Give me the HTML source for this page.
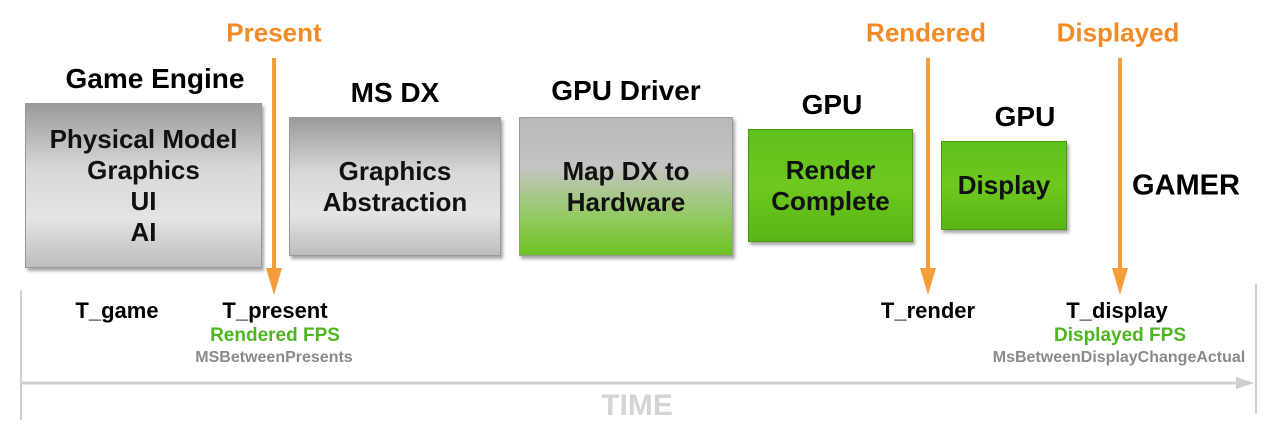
<!DOCTYPE html>
<html><head><style>
body{margin:0;width:1280px;height:437px;background:#fff;position:relative;overflow:hidden;font-family:"Liberation Sans",sans-serif;font-weight:bold}
.t{position:absolute;white-space:nowrap;transform:translate(-50%,-50%);text-align:center}
.b{position:absolute;box-sizing:border-box;border:1px solid #999;box-shadow:2px 3px 3px rgba(0,0,0,.35);display:flex;align-items:center;justify-content:center;text-align:center;color:#111;font-size:26px;line-height:31px}
.g{background:linear-gradient(#9a9a9a,#d8d8d8 40%,#e4e4e4 70%,#bdbdbd)}
.gr{background:linear-gradient(#5fc01a,#6ec81f 50%,#58b514);border-color:#4a9a10}
.o{color:#f28a26;font-size:26px}
.h{font-size:28px;color:#000}
.s{font-size:22px;color:#000}
</style></head><body>
<svg width="1280" height="437" style="position:absolute;left:0;top:0">
<g fill="#f49b3a" stroke="#f49b3a">
<line x1="274" y1="58" x2="274" y2="272" stroke-width="4"/><polygon points="266,268 282,268 274,295" stroke="none"/>
<line x1="928" y1="58" x2="928" y2="272" stroke-width="4"/><polygon points="920,268 936,268 928,295" stroke="none"/>
<line x1="1120" y1="58" x2="1120" y2="272" stroke-width="4"/><polygon points="1112,268 1128,268 1120,295" stroke="none"/>
</g>
<g stroke="#cfcfcf" fill="#cfcfcf">
<line x1="21" y1="290" x2="21" y2="420" stroke-width="2"/>
<line x1="1256" y1="284" x2="1256" y2="414" stroke-width="2"/>
<line x1="21" y1="383" x2="1238" y2="383" stroke-width="3"/>
<polygon points="1236,377 1254,383 1236,389" stroke="none"/>
</g>
</svg>
<div class="b g" style="left:25px;top:103px;width:237px;height:165px">Physical Model<br>Graphics<br>UI<br>AI</div>
<div class="b g" style="left:289px;top:117px;width:212px;height:139px">Graphics<br>Abstraction</div>
<div class="b" style="left:519px;top:117px;width:214px;height:139px;background:linear-gradient(#b8b8b8,#c4c4c4 35%,#8fca5a 75%,#6cc222)">Map DX to<br>Hardware</div>
<div class="b gr" style="left:748px;top:129px;width:165px;height:113px">Render<br>Complete</div>
<div class="b gr" style="left:941px;top:141px;width:126px;height:89px">Display</div>
<div class="t o" style="left:274px;top:33px">Present</div>
<div class="t o" style="left:926px;top:33px">Rendered</div>
<div class="t o" style="left:1118px;top:33px">Displayed</div>
<div class="t h" style="left:155px;top:79px">Game Engine</div>
<div class="t h" style="left:395px;top:93px">MS DX</div>
<div class="t h" style="left:626px;top:91px">GPU Driver</div>
<div class="t h" style="left:832px;top:105px">GPU</div>
<div class="t h" style="left:1025px;top:117px">GPU</div>
<div class="t h" style="left:1186px;top:186px;font-size:29px">GAMER</div>
<div class="t s" style="left:117px;top:311px">T_game</div>
<div class="t s" style="left:275px;top:311px">T_present</div>
<div class="t s" style="left:928px;top:311px">T_render</div>
<div class="t s" style="left:1117px;top:311px">T_display</div>
<div class="t" style="left:275px;top:336px;color:#4db520;font-size:19px">Rendered FPS</div>
<div class="t" style="left:1120px;top:336px;color:#4db520;font-size:19px">Displayed FPS</div>
<div class="t" style="left:274px;top:358px;color:#8a8a8a;font-size:16px">MSBetweenPresents</div>
<div class="t" style="left:1119px;top:358px;color:#8a8a8a;font-size:16px">MsBetweenDisplayChangeActual</div>
<div class="t" style="left:637px;top:406px;color:#d4d4d4;font-size:30px">TIME</div>
</body></html>
